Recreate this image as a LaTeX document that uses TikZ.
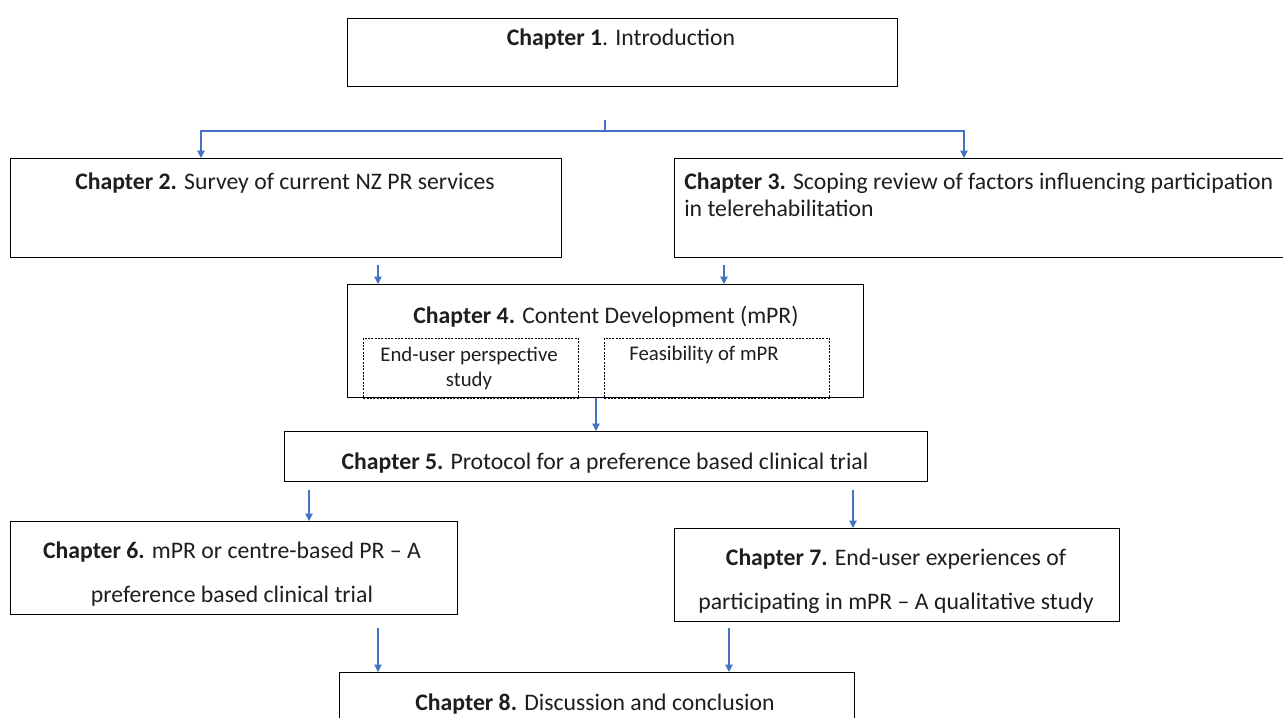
\documentclass[tikz,border=0pt]{standalone}
\usepackage{fontspec}
\setmainfont{Carlito}
\usetikzlibrary{arrows.meta}
\definecolor{arrowblue}{HTML}{4472C4}
\definecolor{inkgray}{HTML}{1E1E1E}
\tikzset{
  chbox/.style={draw=black, line width=1.1pt, inner sep=0pt, anchor=north west},
  subbox/.style={draw=black, dashed, dash pattern=on 1.5pt off 1pt, line width=0.7pt, inner sep=0pt, anchor=north west},
  txt/.style={inner sep=0pt, anchor=base, text=inkgray, font=\fontsize{17.8}{21}\selectfont},
  subtxt/.style={txt, font=\fontsize{15.6}{19}\selectfont},
  flow/.style={draw=arrowblue, line width=0.8pt, -{Triangle[length=5.5pt,width=5.5pt]}},
  stub/.style={draw=arrowblue, line width=0.8pt}
}
\newcommand{\bx}[5]{\node[#1, minimum width={(#4-#2)*0.75pt}, minimum height={(#5-#3)*0.75pt}]}
\begin{document}
\begin{tikzpicture}[x=0.75pt, y=-0.75pt]
\useasboundingbox (0,0) rectangle (1283,718);
\clip (0,0) rectangle (1283,718);
\fill[white] (0,0) rectangle (1283,718);

% chapter boxes
\bx{chbox}{347}{18}{897}{86} (b1) at (347,18) {};
\bx{chbox}{10}{158}{561}{257} (b2) at (10,158) {};
\bx{chbox}{674}{158}{1300}{257} (b3) at (674,158) {};
\bx{chbox}{347}{284}{863}{397} (b4) at (347,284) {};
\bx{subbox}{363}{338}{578}{398} (b4a) at (363,338) {};
\bx{subbox}{604}{338}{829}{398} (b4b) at (604,338) {};
\bx{chbox}{284}{431}{927}{481} (b5) at (284,431) {};
\bx{chbox}{10}{521}{457}{614} (b6) at (10,521) {};
\bx{chbox}{674}{528}{1119}{621} (b7) at (674,528) {};
\bx{chbox}{339}{672}{854}{740} (b8) at (339,672) {};

% texts
\node[txt] (t1) at (621,45) {\textbf{Chapter 1}. Introduction};
\node[txt] (t2) at (285,189) {\textbf{Chapter 2.} Survey of current NZ PR services};
\node[txt, anchor=base west] (t3a) at (684,189) {\makebox[441.75pt][s]{\textbf{Chapter 3.} Scoping review of factors influencing participation}};
\node[txt, anchor=base west] (t3b) at (684,216) {in telerehabilitation};
\node[txt] (t4) at (606,323) {\textbf{Chapter 4.} Content Development (mPR)};
\node[subtxt] (t4a) at (469,361) {End-user perspective};
\node[subtxt] (t4a2) at (469,386) {study};
\node[subtxt] (t4b) at (704,360) {Feasibility of mPR};
\node[txt] (t5) at (605,469) {\textbf{Chapter 5.} Protocol for a preference based clinical trial};
\node[txt] (t6a) at (232,558) {\textbf{Chapter 6.} mPR or centre-based PR – A};
\node[txt] (t6b) at (232,602) {preference based clinical trial};
\node[txt] (t7a) at (896,565) {\textbf{Chapter 7.} End-user experiences of};
\node[txt] (t7b) at (896,609) {participating in mPR – A qualitative study};
\node[txt] (t8) at (595,710) {\textbf{Chapter 8.} Discussion and conclusion};

% connector points
\coordinate (s1) at (605,120);
\coordinate (j1) at (605,131);
\coordinate (jl) at (201,131);
\coordinate (jr) at (964,131);
\coordinate (a2) at (378,265);
\coordinate (a3) at (724,265);
\coordinate (a4) at (596,398);
\coordinate (a5l) at (309,490);
\coordinate (a5r) at (853,490);
\coordinate (a6) at (378,628);
\coordinate (a7) at (729,628);

% connectors
\draw[stub] (s1) -- (j1);
\draw[flow] (j1) -- (jl) -- (jl |- b2.north);
\draw[flow] (j1) -- (jr) -- (jr |- b3.north);
\draw[flow] (a2) -- (a2 |- b4.north);
\draw[flow] (a3) -- (a3 |- b4.north);
\draw[flow] (a4) -- (a4 |- b5.north);
\draw[flow] (a5l) -- (a5l |- b6.north);
\draw[flow] (a5r) -- (a5r |- b7.north);
\draw[flow] (a6) -- (a6 |- b8.north);
\draw[flow] (a7) -- (a7 |- b8.north);
\end{tikzpicture}
\end{document}
